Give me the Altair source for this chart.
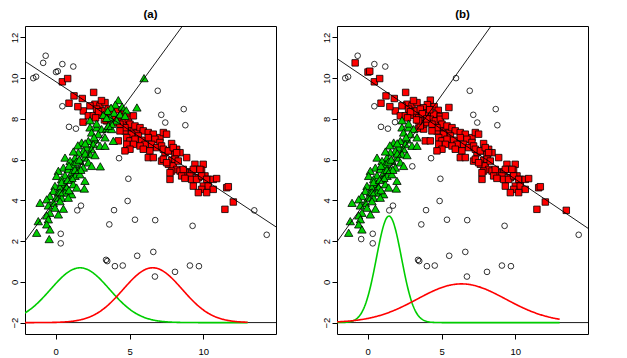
import altair as alt
import numpy as np
import pandas as pd

# ---------------- axis ranges / ticks ----------------
X_DOMAIN = [-2.08, 14.92]
Y_DOMAIN = [-2.56, 12.56]
X_TICKS = [0, 5, 10]
Y_TICKS = [-2, 0, 2, 4, 6, 8, 10, 12]
PANEL_TITLES = ["(a)", "(b)"]

# ---------------- points (x, y) grouped by class in panel (a) / (b) ----------------
GREEN_BOTH = [
    (2.32, 7.58), (2.77, 7.58), (3.11, 7.50), (2.43, 7.33), (2.89, 7.25), (3.34, 7.09),
    (2.66, 6.99), (2.21, 6.92), (1.76, 6.84), (2.55, 6.76), (3.00, 6.68), (3.34, 6.68),
    (2.10, 6.59), (2.43, 6.51), (1.87, 6.43), (1.53, 6.35), (2.32, 6.27), (2.66, 6.22),
    (1.98, 6.10), (1.31, 6.10), (0.63, 6.10), (0.97, 5.94), (1.64, 5.94), (2.21, 5.86),
    (1.19, 5.77), (2.43, 5.69), (0.52, 5.61), (0.85, 5.53), (1.53, 5.53), (1.87, 5.61),
    (0.18, 5.45), (1.08, 5.36), (0.63, 5.23), (1.31, 5.20), (1.64, 5.28), (0.06, 5.20),
    (0.40, 5.04), (0.97, 5.04), (1.98, 4.96), (0.63, 4.79), (1.19, 4.79), (-0.05, 4.71),
    (0.29, 4.63), (0.74, 4.63), (1.42, 4.63), (1.94, 4.58), (-0.16, 4.46), (0.18, 4.38),
    (0.63, 4.38), (1.08, 4.30), (-0.39, 4.21), (0.06, 4.13), (0.40, 4.13), (-0.61, 4.05),
    (0.85, 4.13), (-1.06, 3.88), (-0.16, 3.88), (0.29, 3.96), (-0.50, 3.75), (-0.05, 3.64),
    (0.52, 3.59), (-0.39, 3.39), (0.18, 3.31), (-0.61, 3.26), (-1.18, 2.98), (-0.50, 3.07),
    (-0.61, 2.82), (-0.39, 2.57), (-1.29, 2.41), (2.32, 7.93), (2.77, 7.77),
    (1.20, 6.40), (1.50, 6.70), (0.90, 5.70), (1.40, 5.90), (2.00, 6.30), (1.70, 5.50),
    (1.10, 5.10), (0.40, 4.90), (0.90, 4.50), (1.60, 6.00), (2.60, 7.10), (2.00, 6.80),
    (0.30, 4.40), (1.30, 5.50), (0.80, 5.00),
]
GREEN_A_RED_B = [
    (3.45, 7.53), (3.79, 7.50), (3.90, 6.92), (4.24, 8.92), (4.04, 8.70), (4.50, 8.60),
    (3.75, 8.55), (4.78, 8.42), (5.50, 8.56), (3.52, 8.39), (3.95, 8.30), (4.35, 8.22),
    (3.23, 8.20), (3.68, 8.07), (4.13, 7.92), (4.70, 8.15), (3.45, 8.05), (3.79, 7.75),
    (3.56, 7.66),
]
GREEN_A_OPEN_B = [(5.98, 10.00), (3.02, 5.67), (-0.44, 2.10)]
RED_BOTH = [
    (0.45, 9.82), (0.81, 9.98), (1.24, 9.13), (1.80, 9.00), (2.57, 9.30), (0.90, 8.77),
    (2.66, 8.72), (3.00, 8.64), (3.34, 8.80), (2.32, 8.64), (2.77, 8.48), (1.87, 8.39),
    (2.21, 8.15), (2.55, 8.15), (2.89, 8.18), (3.22, 8.39), (3.56, 8.48), (3.45, 7.90),
    (4.47, 8.23), (4.92, 8.12), (4.47, 7.66), (4.80, 7.69), (5.14, 7.57), (4.69, 7.41),
    (5.26, 7.41), (5.48, 7.30), (4.24, 7.98), (4.58, 7.90), (4.92, 7.98), (5.26, 8.15),
    (5.03, 7.74), (5.37, 7.65), (4.69, 7.57), (4.35, 7.41), (5.71, 7.57), (5.93, 7.41),
    (6.27, 7.33), (6.61, 7.25), (7.06, 7.08), (7.29, 7.33), (7.51, 7.25), (6.27, 7.08),
    (5.60, 7.16), (5.14, 7.25), (4.81, 7.08), (5.03, 6.92), (5.37, 7.00), (5.82, 6.95),
    (6.05, 6.75), (6.72, 7.00), (7.06, 6.84), (6.50, 6.75), (5.71, 6.67), (5.26, 6.75),
    (4.81, 6.75), (5.03, 6.51), (4.69, 6.43), (5.93, 6.51), (6.38, 6.43), (6.84, 6.59),
    (7.17, 6.67), (7.85, 6.79), (8.19, 6.51), (7.74, 6.43), (7.40, 6.34), (8.08, 6.26),
    (8.42, 6.34), (8.87, 6.10), (6.27, 6.10), (6.61, 6.10), (7.17, 5.93), (7.85, 5.97),
    (7.63, 5.77), (7.96, 5.69), (8.19, 5.52), (8.42, 5.44), (8.75, 5.36), (7.85, 5.44),
    (9.43, 5.77), (9.99, 5.77), (9.54, 5.52), (9.88, 5.48), (9.21, 5.41), (9.09, 5.20),
    (9.66, 5.11), (10.11, 5.20), (10.33, 5.03), (7.74, 5.03), (8.53, 5.20), (8.75, 5.08),
    (4.24, 6.92), (4.02, 7.82), (4.35, 7.74), (7.29, 6.51), (7.63, 6.43), (7.96, 6.59),
    (8.19, 6.34), (7.29, 6.02), (7.51, 5.85), (8.08, 6.02), (8.30, 5.93), (8.64, 5.52),
    (7.74, 5.36), (9.32, 5.52), (9.77, 5.52), (9.21, 5.03), (9.54, 5.03), (9.88, 5.20),
    (10.22, 5.03), (10.67, 5.03), (10.90, 5.07), (9.32, 4.70), (10.00, 4.70), (10.33, 4.70),
    (10.67, 4.54), (9.88, 4.54), (9.66, 4.38), (10.22, 4.38), (11.58, 4.62), (11.69, 4.67),
    (12.03, 3.92), (11.46, 3.56), (3.10, 8.90), (2.90, 8.35), (3.70, 8.25), (4.00, 8.00),
    (2.70, 8.05), (3.30, 7.95), (4.20, 8.45), (1.50, 8.60),
]
RED_A_OPEN_B = [(1.85, 7.84)]
OPEN_A_RED_B = [(-0.85, 10.75), (0.02, 10.30), (0.14, 10.34), (13.45, 3.51)]
OPEN_BOTH = [
    (-0.68, 11.10), (0.45, 10.69), (1.19, 10.57), (-1.52, 10.00), (-1.33, 10.07),
    (0.45, 8.62), (0.90, 7.61), (1.37, 7.52), (6.91, 9.38), (7.15, 8.20), (7.42, 7.82),
    (8.67, 8.48), (8.78, 7.69), (4.29, 6.07), (4.92, 5.06), (4.87, 3.97), (3.95, 3.52),
    (1.71, 3.74), (1.46, 3.51), (3.63, 2.82), (5.37, 3.05), (6.74, 3.03), (9.27, 2.75),
    (0.34, 2.36), (0.34, 1.89), (3.41, 1.08), (3.49, 1.02), (4.01, 0.77), (4.54, 0.80),
    (5.52, 1.28), (6.61, 1.47), (6.72, 0.26), (8.08, 0.49), (9.09, 0.80), (9.70, 0.77),
    (14.29, 2.31),
]

# ---------------- straight lines (intercept, slope) ----------------
LINES_A = [(9.83, -0.478), (4.06, 0.99)]
LINES_B = [(9.94, -0.49), (4.08, 1.015)]
BASELINE_Y = -2

# ---------------- density curves: (name, mean, sd, peak height above baseline) ----------------
CURVES_A = [("g", 1.65, 2.0, 2.69), ("r", 6.57, 2.0, 2.69)]
CURVES_B = [("g", 1.44, 0.85, 5.23), ("r", 6.35, 3.0, 1.90)]
CURVE_X_RANGE = [-2.08, 13.0]

GREEN = "#00CD00"
RED = "#FF0000"
FONT = "Liberation Sans"

groups = [
    (GREEN_BOTH, "g", "g"), (GREEN_A_RED_B, "g", "r"), (GREEN_A_OPEN_B, "g", "o"),
    (RED_BOTH, "r", "r"), (RED_A_OPEN_B, "r", "o"), (OPEN_A_RED_B, "o", "r"),
    (OPEN_BOTH, "o", "o"),
]
rows = []
for pts, ca, cb in groups:
    for (x, y) in pts:
        rows.append({"x": x, "y": y, "cls_a": ca, "cls_b": cb})
points = pd.DataFrame(rows)

x_enc = alt.X("x:Q", scale=alt.Scale(domain=X_DOMAIN, nice=False, zero=False),
              axis=alt.Axis(values=X_TICKS, domain=False, grid=False, tickSize=5,
                            tickColor="black", labelColor="black", labelFont=FONT,
                            labelFontSize=9.5, labelPadding=7, labelFlush=False,
                            labelOverlap=False, title=None))
y_enc = alt.Y("y:Q", scale=alt.Scale(domain=Y_DOMAIN, nice=False, zero=False),
              axis=alt.Axis(values=Y_TICKS, domain=False, grid=False, tickSize=5,
                            tickColor="black", labelColor="black", labelFont=FONT,
                            labelFontSize=9.5, labelPadding=1, labelAngle=270,
                            labelAlign="center", labelBaseline="bottom",
                            labelFlush=False, labelOverlap=False, title=None))


def panel(cls_col, lines, curves, title):
    df = points.assign(cls=points[cls_col])
    base = alt.Chart(df).encode(x=x_enc, y=y_enc)
    reds = base.transform_filter("datum.cls == 'r'").mark_point(
        shape="square", filled=True, fill=RED, stroke="black", strokeWidth=0.8,
        size=42, opacity=1, clip=True)
    greens = base.transform_filter("datum.cls == 'g'").mark_point(
        shape="triangle-up", filled=True, fill=GREEN, stroke="black", strokeWidth=0.8,
        size=70, opacity=1, clip=True)
    opens = base.transform_filter("datum.cls == 'o'").mark_point(
        shape="circle", filled=False, stroke="black", strokeWidth=0.8,
        size=32, opacity=1, clip=True)

    lrows = []
    for i, (b0, m) in enumerate(lines):
        for xv in X_DOMAIN:
            lrows.append({"x": xv, "y": b0 + m * xv, "id": i})
    line_layer = alt.Chart(pd.DataFrame(lrows)).mark_line(
        color="black", strokeWidth=0.9, clip=True).encode(x=x_enc, y=y_enc, detail="id:N")

    baseline = alt.Chart(pd.DataFrame({"y": [BASELINE_Y]})).mark_rule(
        color="black", strokeWidth=0.9).encode(y=y_enc)

    crows = []
    xs = np.linspace(CURVE_X_RANGE[0], CURVE_X_RANGE[1], 300)
    for name, mu, sd, h in curves:
        for xv in xs:
            crows.append({"x": xv, "y": BASELINE_Y + h * np.exp(-((xv - mu) ** 2) / (2 * sd * sd)),
                          "c": GREEN if name == "g" else RED, "id": name})
    curve_layer = alt.Chart(pd.DataFrame(crows)).mark_line(
        strokeWidth=1.6, clip=True).encode(
        x=x_enc, y=y_enc, detail="id:N", color=alt.Color("c:N", scale=None))

    return alt.layer(reds, greens, opens, line_layer, baseline, curve_layer).properties(
        width=251, height=308,
        title=alt.TitleParams(title, font=FONT, fontSize=11.5, fontWeight="bold",
                              anchor="middle", offset=6, color="black"))


pa = panel("cls_a", LINES_A, CURVES_A, PANEL_TITLES[0])
pb = panel("cls_b", LINES_B, CURVES_B, PANEL_TITLES[1])

chart = alt.hconcat(pa, pb, spacing=43).properties(
    padding={"left": 0, "top": 0, "right": 5, "bottom": 0},
    background="white",
).configure_view(stroke="black", strokeWidth=1)

chart.save("out.html", embed_options={"renderer": "svg", "actions": False})
